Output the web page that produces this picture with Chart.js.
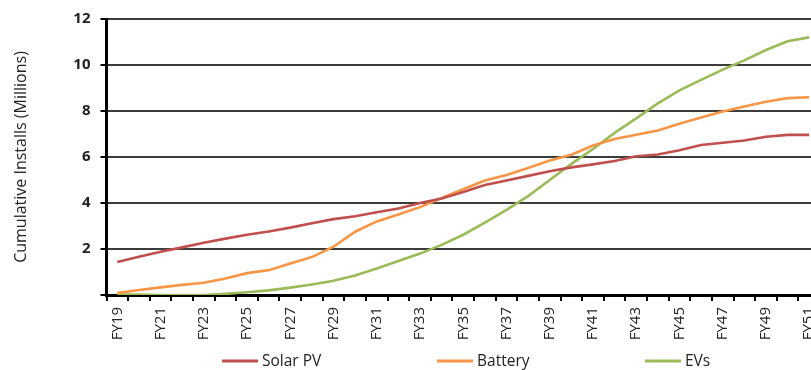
<!DOCTYPE html>
<html>
<head>
<meta charset="utf-8">
<script src="https://cdn.jsdelivr.net/npm/chart.js@4.4.1/dist/chart.umd.min.js"></script>
<style>
  html, body { margin: 0; padding: 0; overflow: hidden; background: #fff; width: 811px; height: 370px; }
  canvas { display: block; }
</style>
</head>
<body>
<canvas id="c" width="820" height="370"></canvas>
<script>
// Financial years on the category axis
const years = ['FY19','FY20','FY21','FY22','FY23','FY24','FY25','FY26','FY27','FY28','FY29',
               'FY30','FY31','FY32','FY33','FY34','FY35','FY36','FY37','FY38','FY39','FY40',
               'FY41','FY42','FY43','FY44','FY45','FY46','FY47','FY48','FY49','FY50','FY51'];

// Cumulative installs, millions
const solarPV = [1.43, 1.66, 1.88, 2.07, 2.27, 2.45, 2.62, 2.76, 2.93, 3.12, 3.30,
                 3.42, 3.60, 3.76, 4.00, 4.20, 4.48, 4.78, 4.98, 5.18, 5.38, 5.55,
                 5.68, 5.83, 6.03, 6.11, 6.29, 6.52, 6.62, 6.72, 6.88, 6.96, 6.96];
const battery = [0.08, 0.22, 0.33, 0.44, 0.53, 0.72, 0.95, 1.08, 1.37, 1.65, 2.10,
                 2.75, 3.20, 3.50, 3.82, 4.22, 4.60, 4.98, 5.22, 5.52, 5.85, 6.10,
                 6.50, 6.78, 6.97, 7.15, 7.45, 7.72, 7.98, 8.20, 8.40, 8.56, 8.60];
const evs     = [0.02, 0.02, 0.00, 0.00, 0.00, 0.05, 0.12, 0.20, 0.32, 0.46, 0.62,
                 0.85, 1.15, 1.48, 1.80, 2.18, 2.62, 3.15, 3.70, 4.30, 5.00, 5.70,
                 6.35, 7.05, 7.68, 8.33, 8.90, 9.35, 9.80, 10.20, 10.65, 11.03, 11.20];

const seriesNames = ['Solar PV', 'Battery', 'EVs'];
const yMin = 0, yMax = 12, yStep = 2;
const yTitle = 'Cumulative Installs (Millions)';

const FONT = '"Open Sans", "Liberation Sans", sans-serif';

// Legend row under the axis: short line swatch followed by the series name
const bottomLegend = {
  id: 'bottomLegend',
  afterDraw(chart) {
    const ctx = chart.ctx;
    const starts = [222, 437, 645];
    const y = 361;
    chart.data.datasets.forEach((ds, i) => {
      ctx.save();
      ctx.strokeStyle = ds.borderColor;
      ctx.lineWidth = 3;
      ctx.beginPath();
      ctx.moveTo(starts[i], y);
      ctx.lineTo(starts[i] + 36, y);
      ctx.stroke();
      ctx.fillStyle = '#222';
      ctx.font = '15.5px ' + FONT;
      ctx.textBaseline = 'middle';
      ctx.textAlign = 'left';
      ctx.fillText(ds.label, starts[i] + 40, y + 1);
      ctx.restore();
    });
  }
};

new Chart(document.getElementById('c'), {
  type: 'line',
  data: {
    labels: years,
    datasets: [
      { label: seriesNames[0], data: solarPV, borderColor: '#c0504d' },
      { label: seriesNames[1], data: battery, borderColor: '#f79646' },
      { label: seriesNames[2], data: evs,     borderColor: '#9bbb59' }
    ]
  },
  options: {
    responsive: false,
    animation: false,
    layout: { padding: { top: 18, right: 0, bottom: 22, left: 0 } },
    plugins: { legend: { display: false }, tooltip: { enabled: false } },
    elements: {
      point: { radius: 0 },
      line: { tension: 0, borderWidth: 2.6, fill: false }
    },
    scales: {
      x: {
        offset: true,
        grid: { offset: true, drawOnChartArea: false, drawTicks: true, tickLength: 6, color: '#000', lineWidth: 2 },
        border: { color: '#000', width: 3 },
        ticks: {
          autoSkip: false, maxRotation: 90, minRotation: 90, padding: 6,
          color: '#222', font: { size: 15, family: FONT },
          callback(v, i) { return i % 2 === 0 ? this.getLabelForValue(v) : ''; }
        },
        afterFit(s) { s.height = 53; s.paddingLeft = 0; s.paddingRight = 0; }
      },
      y: {
        min: yMin, max: yMax,
        ticks: {
          stepSize: yStep, padding: 10, color: '#222',
          font: { size: 15, weight: 'bold', family: FONT },
          callback: v => (v === 0 ? '' : v)
        },
        grid: { color: '#3c3c3c', lineWidth: 2, drawTicks: true, tickLength: 6, tickColor: '#000', tickWidth: 2 },
        border: { color: '#000', width: 3 },
        title: {
          display: true, text: yTitle, color: '#222',
          font: { size: 16, family: FONT }, padding: { top: 12, bottom: 0 }
        },
        afterFit(s) { s.width = 106.5; }
      }
    }
  },
  plugins: [bottomLegend]
});
</script>
</body>
</html>
